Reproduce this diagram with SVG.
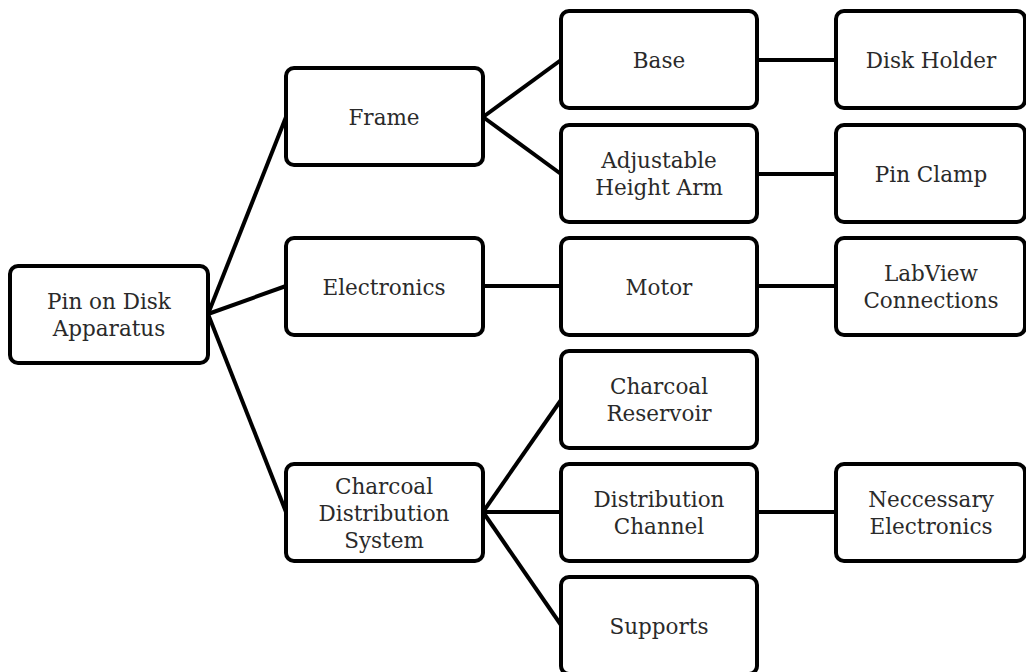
<svg xmlns="http://www.w3.org/2000/svg" width="1026" height="672" viewBox="0 0 1026 672">
  <style>
    .box { fill: #ffffff; stroke: #000000; stroke-width: 4; }
    .lbl { font-family: "DejaVu Serif", "Liberation Serif", serif; font-size: 21.5px; fill: #2a2a2a; text-anchor: middle; }
    .link { stroke: #000000; stroke-width: 4; fill: none; }
  </style>
  <rect width="1026" height="672" fill="#ffffff"/>

  <!-- connectors -->
  <g id="connectors" class="link">
    <line x1="208" y1="314" x2="286" y2="117"/>
    <line x1="208" y1="314" x2="286" y2="286"/>
    <line x1="208" y1="314" x2="286" y2="512"/>
    <line x1="483" y1="117" x2="561" y2="60"/>
    <line x1="483" y1="117" x2="561" y2="174"/>
    <line x1="757" y1="60" x2="836" y2="60"/>
    <line x1="757" y1="174" x2="836" y2="174"/>
    <line x1="483" y1="286" x2="561" y2="286"/>
    <line x1="757" y1="286" x2="836" y2="286"/>
    <line x1="483" y1="512" x2="561" y2="400"/>
    <line x1="483" y1="512" x2="561" y2="512"/>
    <line x1="483" y1="512" x2="561" y2="625"/>
    <line x1="757" y1="512" x2="836" y2="512"/>
  </g>

  <g id="root">
    <rect class="box" x="10" y="266" width="198" height="97" rx="8"/>
    <text class="lbl" x="109" y="309">Pin on Disk</text>
    <text class="lbl" x="109" y="336">Apparatus</text>
  </g>

  <g id="frame">
    <rect class="box" x="286" y="68" width="197" height="97" rx="8"/>
    <text class="lbl" x="384" y="125">Frame</text>
  </g>
  <g id="electronics">
    <rect class="box" x="286" y="238" width="197" height="97" rx="8"/>
    <text class="lbl" x="384" y="295">Electronics</text>
  </g>
  <g id="charcoal-distribution-system">
    <rect class="box" x="286" y="464" width="197" height="97" rx="8"/>
    <text class="lbl" x="384" y="494">Charcoal</text>
    <text class="lbl" x="384" y="521">Distribution</text>
    <text class="lbl" x="384" y="548">System</text>
  </g>

  <g id="base">
    <rect class="box" x="561" y="11" width="196" height="97" rx="8"/>
    <text class="lbl" x="659" y="68">Base</text>
  </g>
  <g id="adjustable-height-arm">
    <rect class="box" x="561" y="125" width="196" height="97" rx="8"/>
    <text class="lbl" x="659" y="168">Adjustable</text>
    <text class="lbl" x="659" y="195">Height Arm</text>
  </g>
  <g id="motor">
    <rect class="box" x="561" y="238" width="196" height="97" rx="8"/>
    <text class="lbl" x="659" y="295">Motor</text>
  </g>
  <g id="charcoal-reservoir">
    <rect class="box" x="561" y="351" width="196" height="97" rx="8"/>
    <text class="lbl" x="659" y="394">Charcoal</text>
    <text class="lbl" x="659" y="421">Reservoir</text>
  </g>
  <g id="distribution-channel">
    <rect class="box" x="561" y="464" width="196" height="97" rx="8"/>
    <text class="lbl" x="659" y="507">Distribution</text>
    <text class="lbl" x="659" y="534">Channel</text>
  </g>
  <g id="supports">
    <rect class="box" x="561" y="577" width="196" height="97" rx="8"/>
    <text class="lbl" x="659" y="634">Supports</text>
  </g>

  <g id="disk-holder">
    <rect class="box" x="836" y="11" width="189" height="97" rx="8"/>
    <text class="lbl" x="931" y="68">Disk Holder</text>
  </g>
  <g id="pin-clamp">
    <rect class="box" x="836" y="125" width="189" height="97" rx="8"/>
    <text class="lbl" x="931" y="182">Pin Clamp</text>
  </g>
  <g id="labview-connections">
    <rect class="box" x="836" y="238" width="189" height="97" rx="8"/>
    <text class="lbl" x="931" y="281">LabView</text>
    <text class="lbl" x="931" y="308">Connections</text>
  </g>
  <g id="neccessary-electronics">
    <rect class="box" x="836" y="464" width="189" height="97" rx="8"/>
    <text class="lbl" x="931" y="507">Neccessary</text>
    <text class="lbl" x="931" y="534">Electronics</text>
  </g>
</svg>
